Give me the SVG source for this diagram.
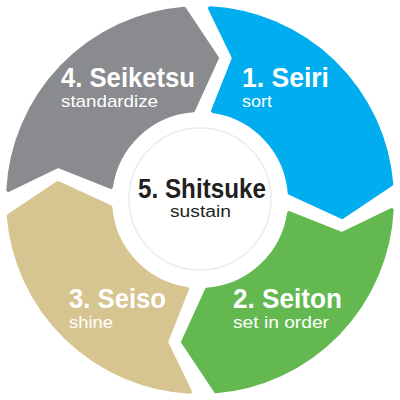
<svg xmlns="http://www.w3.org/2000/svg" width="400" height="400" viewBox="0 0 400 400">
<style>
.seg{stroke-width:4;stroke-linejoin:round}
.t{font-family:"Liberation Sans",Arial,sans-serif;font-weight:bold;font-size:27px}
.s{font-family:"Liberation Sans",Arial,sans-serif;font-size:17px}
.c{font-size:16px}
.w{fill:#ffffff}
.d{fill:#231f20}
</style>
<rect width="400" height="400" fill="#ffffff"/>
<g id="seiri">
<path class="seg" fill="#00adee" stroke="#00adee" d="M 210,8.3 A 192 192 0 0 1 391.3,184 L 342,217 L 289.7,193 A 90 90 0 0 0 213,110.9 L 234,58 Z"/>
<text class="t w" x="242" y="87" textLength="87" lengthAdjust="spacingAndGlyphs">1. Seiri</text>
<text class="s w" x="242" y="107" textLength="30" lengthAdjust="spacingAndGlyphs">sort</text>
</g>
<g id="seiton">
<path class="seg" fill="#63b94f" stroke="#63b94f" d="M 391.7,210 A 192 192 0 0 1 216,391.3 L 183,342 L 207,289.7 A 90 90 0 0 0 289.1,213 L 342,234 Z"/>
<text class="t w" x="233" y="308" textLength="109" lengthAdjust="spacingAndGlyphs">2. Seiton</text>
<text class="s w" x="233" y="328" textLength="96" lengthAdjust="spacingAndGlyphs">set in order</text>
</g>
<g id="seiso">
<path class="seg" fill="#d6c590" stroke="#d6c590" d="M 190,391.7 A 192 192 0 0 1 8.7,216 L 58,183 L 110.3,207 A 90 90 0 0 0 187,289.1 L 166,342 Z"/>
<text class="t w" x="69" y="308" textLength="97" lengthAdjust="spacingAndGlyphs">3. Seiso</text>
<text class="s w" x="69" y="328" textLength="44" lengthAdjust="spacingAndGlyphs">shine</text>
</g>
<g id="seiketsu">
<path class="seg" fill="#898b8e" stroke="#898b8e" d="M 8.3,190 A 192 192 0 0 1 184,8.7 L 217,58 L 193,110.3 A 90 90 0 0 0 110.9,187 L 58,166 Z"/>
<text class="t w" x="61" y="87" textLength="134" lengthAdjust="spacingAndGlyphs">4. Seiketsu</text>
<text class="s w" x="61" y="107" textLength="97" lengthAdjust="spacingAndGlyphs">standardize</text>
</g>
<g id="shitsuke">
<circle cx="200" cy="199" r="71" fill="#ffffff" stroke="#ebebeb" stroke-width="1.5"/>
<text class="t d" x="138" y="198" textLength="128" lengthAdjust="spacingAndGlyphs">5. Shitsuke</text>
<text class="s c d" x="170" y="217" textLength="61" lengthAdjust="spacingAndGlyphs">sustain</text>
</g>
</svg>
